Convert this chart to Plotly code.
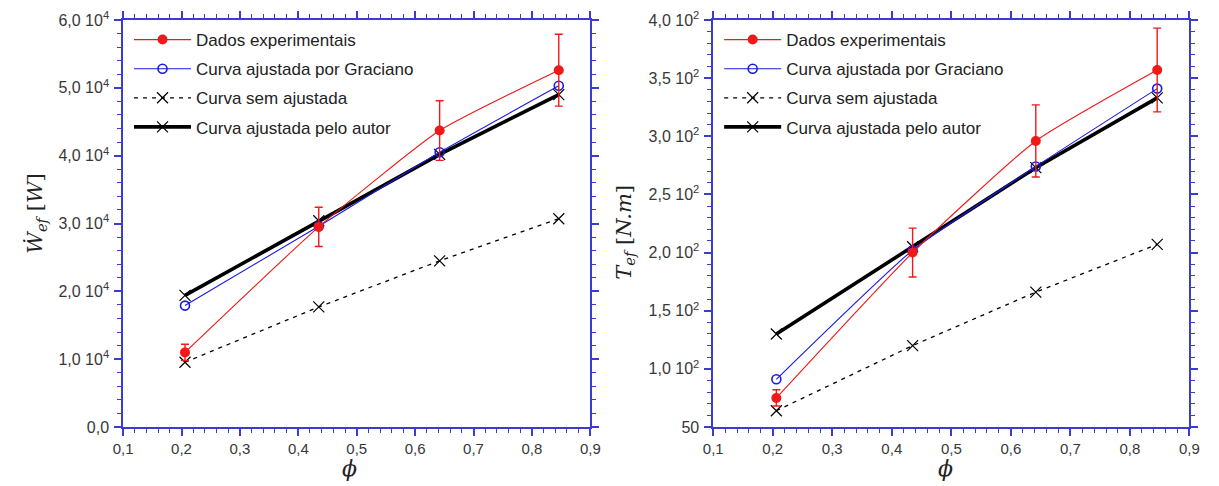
import plotly.graph_objects as go

# Equivalence ratio values shared by both panels
phi = [0.206, 0.435, 0.642, 0.846]

# Effective power [W]
w_dados = [11000, 29500, 43700, 52600]
w_dados_err = [1200, 2900, 4400, 5300]
w_graciano = [17900, 29600, 40500, 50300]
w_sem = [9550, 17700, 24500, 30700]
w_autor = [19400, 30400, 40200, 49000]

# Effective torque [N.m]
t_dados = [75, 200, 296, 357]
t_dados_err = [7, 21, 31, 36]
t_graciano = [91, 202, 274, 341]
t_sem = [64, 120, 166, 207]
t_autor = [130, 205, 273, 333]

x_ticks = [0.1, 0.2, 0.3, 0.4, 0.5, 0.6, 0.7, 0.8, 0.9]
x_ticktext = ["0,1", "0,2", "0,3", "0,4", "0,5", "0,6", "0,7", "0,8", "0,9"]
w_ticks = [0, 10000, 20000, 30000, 40000, 50000, 60000]
w_ticktext = ["0,0", "1,0 10<sup>4</sup>", "2,0 10<sup>4</sup>", "3,0 10<sup>4</sup>",
              "4,0 10<sup>4</sup>", "5,0 10<sup>4</sup>", "6,0 10<sup>4</sup>"]
t_ticks = [50, 100, 150, 200, 250, 300, 350, 400]
t_ticktext = ["50", "1,0 10<sup>2</sup>", "1,5 10<sup>2</sup>", "2,0 10<sup>2</sup>",
              "2,5 10<sup>2</sup>", "3,0 10<sup>2</sup>", "3,5 10<sup>2</sup>", "4,0 10<sup>2</sup>"]

names = ["Dados experimentais", "Curva ajustada por Graciano",
         "Curva sem ajustada", "Curva ajustada pelo autor"]

AX = "#3b3bd0"
RED = "#f01818"
BLUE = "#1a1ae6"
W, H = 1219, 486
ML, MT, MB = 0, 20, 59

fig = go.Figure()


def add_panel(xa, ya, leg, dados, err, grac, sem, autor):
    fig.add_trace(go.Scatter(
        x=phi, y=sem, name=names[2], xaxis=xa, yaxis=ya, legend=leg,
        legendgroup=leg + "c", legendrank=3, mode="lines+markers",
        line=dict(color="black", width=1.3, dash="4px,5px"),
        marker=dict(symbol="x-thin-open", size=11, color="black",
                    line=dict(color="black", width=1.2))))
    fig.add_trace(go.Scatter(
        x=phi, y=autor, name=names[3], xaxis=xa, yaxis=ya, legend=leg,
        legendgroup=leg + "d", legendrank=4, mode="lines+markers",
        line=dict(color="black", width=3.6),
        marker=dict(symbol="x-thin-open", size=11, color="black",
                    line=dict(color="black", width=1.2))))
    fig.add_trace(go.Scatter(
        x=phi, y=grac, name=names[1], xaxis=xa, yaxis=ya, legend=leg,
        legendgroup=leg + "b", legendrank=2, mode="lines+markers",
        line=dict(color=BLUE, width=1.1, shape="spline", smoothing=0.5),
        marker=dict(symbol="circle-open", size=9, color=BLUE,
                    line=dict(color=BLUE, width=1.6))))
    fig.add_trace(go.Scatter(
        x=phi, y=dados, name=names[0], xaxis=xa, yaxis=ya, legend=leg,
        legendgroup=leg + "a", legendrank=1, mode="lines+markers",
        line=dict(color=RED, width=1.1, shape="spline", smoothing=0.5),
        marker=dict(symbol="circle", size=10, color=RED),
        error_y=dict(type="data", array=err, color=RED, thickness=1.4, width=4)))


add_panel("x", "y", "legend", w_dados, w_dados_err, w_graciano, w_sem, w_autor)
add_panel("x2", "y2", "legend2", t_dados, t_dados_err, t_graciano, t_sem, t_autor)

sans = "Liberation Sans, Arial, sans-serif"
xtickfont = dict(family=sans, size=15, color="#383838")
ytickfont = dict(family=sans, size=16, color="#383838")


def axis_style(**kw):
    d = dict(showline=True, linecolor=AX, linewidth=1.6, mirror="allticks",
             ticks="outside", ticklen=7, tickwidth=1.6, tickcolor=AX,
             showgrid=False, zeroline=False)
    d.update(kw)
    return d


px = lambda v: v / W

fig.update_layout(
    width=W, height=H,
    margin=dict(l=ML, r=0, t=MT, b=MB),
    paper_bgcolor="white", plot_bgcolor="white",
    xaxis=axis_style(domain=[px(115), px(590)], range=[0.1, 0.9], anchor="y",
                     tickmode="array", tickvals=x_ticks, ticktext=x_ticktext, tickfont=xtickfont,
                     minor=dict(ticks="outside", ticklen=4, tickcolor=AX, tickwidth=1.4,
                                tick0=0.1, dtick=0.02)),
    yaxis=axis_style(domain=[0, 1], range=[0, 60000], anchor="x",
                     tickmode="array", tickvals=w_ticks, ticktext=w_ticktext, tickfont=ytickfont,
                     ticklabelstandoff=2,
                     minor=dict(ticks="outside", ticklen=4, tickcolor=AX, tickwidth=1.4,
                                tick0=0, dtick=2000)),
    xaxis2=axis_style(domain=[px(715), px(1199)], range=[0.1, 0.9], anchor="y2",
                      tickmode="array", tickvals=x_ticks, ticktext=x_ticktext, tickfont=xtickfont,
                      minor=dict(ticks="outside", ticklen=4, tickcolor=AX, tickwidth=1.4,
                                 tick0=0.1, dtick=0.02)),
    yaxis2=axis_style(domain=[0, 1], range=[50, 400], anchor="x2",
                      tickmode="array", tickvals=t_ticks, ticktext=t_ticktext, tickfont=ytickfont,
                      ticklabelstandoff=2,
                      minor=dict(ticks="outside", ticklen=4, tickcolor=AX, tickwidth=1.4,
                                 tick0=50, dtick=10)),
    showlegend=True,
)

legend_style = dict(
    font=dict(family=sans, size=17, color="#222222"),
    bgcolor="rgba(255,255,255,0)", borderwidth=0, itemwidth=57,
    tracegroupgap=4, xanchor="left", yanchor="top", xref="paper", yref="paper",
)
fig.update_layout(
    legend=dict(x=px(121), y=0.995, **legend_style),
    legend2=dict(x=px(721), y=0.995, **legend_style),
)

serif = "DejaVu Serif, Liberation Serif, serif"
fig.add_annotation(text="<i>Ẇ</i><sub><i>ef</i></sub> [<i>W</i>]", xref="paper", yref="paper",
                   x=px(27), y=0.523, xanchor="center", yanchor="middle",
                   textangle=-90, showarrow=False,
                   font=dict(family=serif, size=21, color="#222222"))
fig.add_annotation(text="<i>T</i><sub><i>ef</i></sub> [<i>N.m</i>]", xref="paper", yref="paper",
                   x=px(625), y=0.479, xanchor="center", yanchor="middle",
                   textangle=-90, showarrow=False,
                   font=dict(family=serif, size=21, color="#222222"))
for xc in (345, 951):
    fig.add_annotation(text="<i>ϕ</i>", xref="paper", yref="paper",
                       x=px(xc), y=-0.103, xanchor="center", yanchor="middle", showarrow=False,
                       font=dict(family=serif, size=22, color="#222222"))

fig.write_html("out.html")
